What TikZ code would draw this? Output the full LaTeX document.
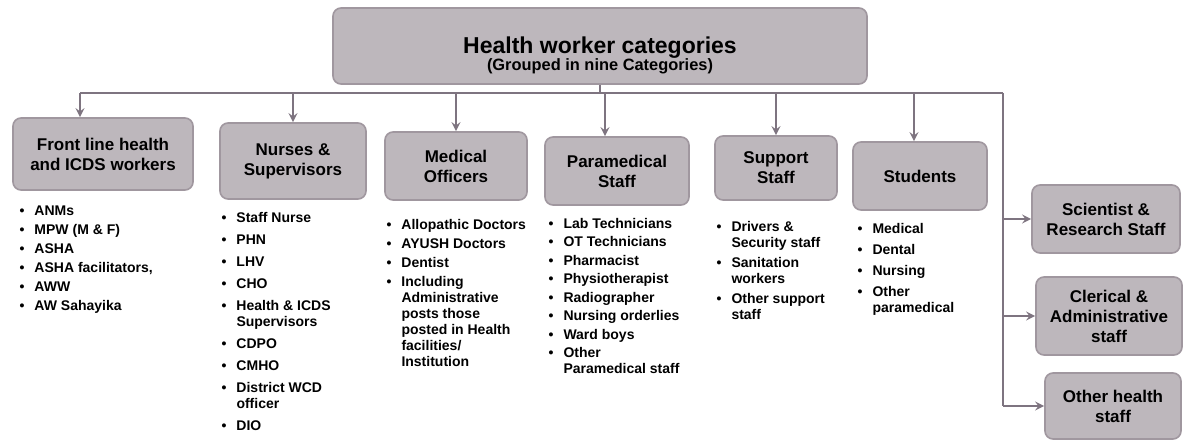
\documentclass[tikz,border=0pt]{standalone}
\usepackage{fontspec}
\setmainfont{Liberation Sans}
\usepackage{xcolor}
\usetikzlibrary{positioning, arrows}
\definecolor{boxfill}{HTML}{BDB7BC}
\definecolor{boxline}{HTML}{A0979F}
\definecolor{linkcol}{HTML}{7E7480}
\tikzstyle{category} = [rectangle, rounded corners=4pt, draw=boxline, line width=0.8pt, fill=boxfill, align=center, font=\fontsize{8.5}{10}\selectfont\bfseries, inner sep=2pt]
\tikzstyle{itemlist} = [inner sep=0pt, anchor=north west, align=left, font=\fontsize{7}{8}\selectfont\bfseries]
\tikzstyle{arrow} = [line width=1pt, draw=linkcol, ->, >=stealth]
\tikzstyle{link} = [line width=1pt, draw=linkcol]
\newcommand{\bul}{\textbullet}

\begin{document}
\begin{tikzpicture}[x=0.5pt, y=-0.5pt]
        \useasboundingbox (0,0) rectangle (1184,443);

        % Nodes
        \node (top) [category, minimum width=267pt, minimum height=38pt] at (600,46) {{\fontsize{11.5}{12}\selectfont\rule{0pt}{17.4pt}Health worker categories}\\[-1.5pt] {\fontsize{8.2}{9}\selectfont (Grouped in nine Categories)}};
        \node (front) [category, minimum width=90pt, minimum height=36pt] at (103,154) {Front line health\\and ICDS workers};
        \node (nurses) [category, minimum width=73pt, minimum height=38pt] at (293,161) {Nurses \&\\Supervisors};
        \node (medical) [category, minimum width=71pt, minimum height=34pt] at (456,166) {Medical\\Officers};
        \node (para) [category, minimum width=72pt, minimum height=34pt] at (617,171) {Paramedical\\Staff};
        \node (support) [category, minimum width=61pt, minimum height=32pt] at (776,168) {Support\\Staff};
        \node (students) [category, minimum width=67pt, minimum height=34pt] at (920,176) {Students};
        \node (science) [category, minimum width=74pt, minimum height=34pt] at (1106,219) {Scientist \&\\Research Staff};
        \node (clerical) [category, minimum width=73pt, minimum height=39pt] at (1109,316) {Clerical \&\\Administrative\\staff};
        \node (otherstaff) [category, minimum width=68pt, minimum height=33pt] at (1113,406) {Other health\\staff};

        % Lists
        \node (frontlist) [itemlist, below right=6.5pt and 3.5pt of front.south west] {\begin{tabular}{@{}l@{\hspace{5pt}}l@{}}
            \bul & ANMs\\[1.5pt]
            \bul & MPW (M \& F)\\[1.5pt]
            \bul & ASHA\\[1.5pt]
            \bul & ASHA facilitators,\\[1.5pt]
            \bul & AWW\\[1.5pt]
            \bul & AW Sahayika
        \end{tabular}};
        \node (nurselist) [itemlist, below right=5.5pt and 1pt of nurses.south west] {\begin{tabular}{@{}l@{\hspace{5pt}}l@{}}
            \bul & Staff Nurse\\[3pt]
            \bul & PHN\\[3pt]
            \bul & LHV\\[3pt]
            \bul & CHO\\[3pt]
            \bul & Health \& ICDS\\
                 & Supervisors\\[3pt]
            \bul & CDPO\\[3pt]
            \bul & CMHO\\[3pt]
            \bul & District WCD\\
                 & officer\\[3pt]
            \bul & DIO
        \end{tabular}};
        \node (medicallist) [itemlist, below right=8.5pt and 1pt of medical.south west] {\begin{tabular}{@{}l@{\hspace{5pt}}l@{}}
            \bul & Allopathic Doctors\\[1.5pt]
            \bul & AYUSH Doctors\\[1.5pt]
            \bul & Dentist\\[1.5pt]
            \bul & Including\\
                 & Administrative\\
                 & posts those\\
                 & posted in Health\\
                 & facilities/\\
                 & Institution
        \end{tabular}};
        \node (paralist) [itemlist, below right=5.5pt and 2pt of para.south west] {\begin{tabular}{@{}l@{\hspace{5pt}}l@{}}
            \bul & Lab Technicians\\[1.25pt]
            \bul & OT Technicians\\[1.25pt]
            \bul & Pharmacist\\[1.25pt]
            \bul & Physiotherapist\\[1.25pt]
            \bul & Radiographer\\[1.25pt]
            \bul & Nursing orderlies\\[1.25pt]
            \bul & Ward boys\\[1.25pt]
            \bul & Other\\
                 & Paramedical staff
        \end{tabular}};
        \node (supportlist) [itemlist, below right=9.5pt and 1pt of support.south west] {\begin{tabular}{@{}l@{\hspace{5pt}}l@{}}
            \bul & Drivers \&\\
                 & Security staff\\[2pt]
            \bul & Sanitation\\
                 & workers\\[2pt]
            \bul & Other support\\
                 & staff
        \end{tabular}};
        \node (studentlist) [itemlist, below right=5.5pt and 2.5pt of students.south west] {\begin{tabular}{@{}l@{\hspace{5pt}}l@{}}
            \bul & Medical\\[2.5pt]
            \bul & Dental\\[2.5pt]
            \bul & Nursing\\[2.5pt]
            \bul & Other\\
                 & paramedical
        \end{tabular}};

        % Arrows
        \coordinate (busright) at (1003,93);
        \draw [link] (top.south) -- (top.south |- busright);
        \draw [link] ([xshift=-11.5pt]front.north |- busright) -- (busright);
        \draw [arrow] ([xshift=-11.5pt]front.north |- busright) -- ([xshift=-11.5pt]front.north);
        \draw [arrow] (nurses.north |- busright) -- (nurses.north);
        \draw [arrow] (medical.north |- busright) -- (medical.north);
        \draw [arrow] ([xshift=-6pt]para.north |- busright) -- ([xshift=-6pt]para.north);
        \draw [arrow] (support.north |- busright) -- (support.north);
        \draw [arrow] ([xshift=-3pt]students.north |- busright) -- ([xshift=-3pt]students.north);
        \draw [link] (busright) -- (busright |- otherstaff);
        \draw [arrow] (busright |- science) -- (science.west);
        \draw [arrow] (busright |- clerical) -- (clerical.west);
        \draw [arrow] (busright |- otherstaff) -- (otherstaff.west);
    \end{tikzpicture}
\end{document}
